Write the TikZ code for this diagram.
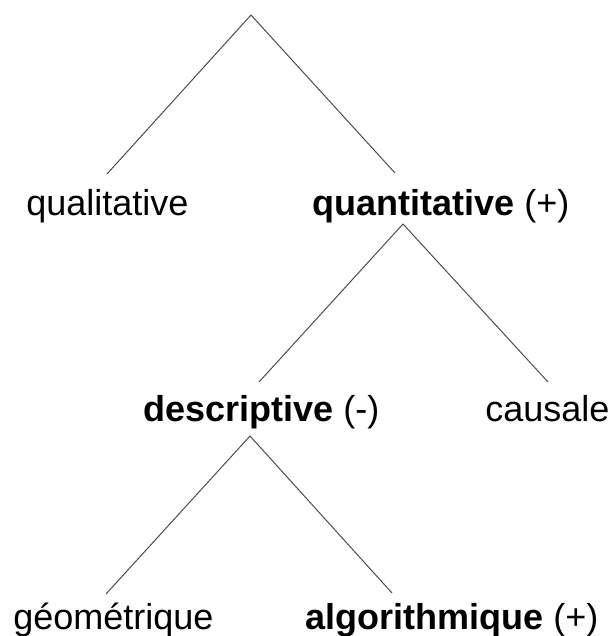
\documentclass[tikz,border=0pt]{standalone}
\usepackage{fontspec}
\setmainfont{Liberation Sans}
\usetikzlibrary{positioning,calc}

\begin{document}
\begin{tikzpicture}[
    x=0.5pt, y=-0.5pt,
    label/.style={anchor=base west, inner sep=0pt, font=\fontsize{18}{22}\selectfont},
    branch/.style={draw=black!70, line width=0.5pt}
]
    \useasboundingbox (0,0) rectangle (611,636);

    % Level 1
    \coordinate (root) at (251,15);
    \node[label] (qual) at (26,215) {qualitative};
    \node[label] (quant) at (312,215) {\textbf{quantitative} (+)};
    \coordinate (qual-end) at (107,174);
    \coordinate (quant-end) at (395,173);

    % Level 2
    \coordinate (quant-top) at (403,224);
    \node[label] (descr) at (143,421) {\textbf{descriptive} (-)};
    \node[label] (caus) at (485,421) {causale};
    \coordinate (descr-end) at (259,382);
    \coordinate (caus-end) at (548,382);

    % Level 3
    \coordinate (descr-top) at (250,436);
    \node[label] (geom) at (13,629) {géométrique};
    \node[label] (algo) at (305,629) {\textbf{algorithmique} (+)};
    \coordinate (geom-end) at (106,594);
    \coordinate (algo-end) at (392,593);

    % Edges
    \draw[branch] (qual-end) -- (root) -- (quant-end);
    \draw[branch] (descr-end) -- (quant-top) -- (caus-end);
    \draw[branch] (geom-end) -- (descr-top) -- (algo-end);
\end{tikzpicture}
\end{document}
